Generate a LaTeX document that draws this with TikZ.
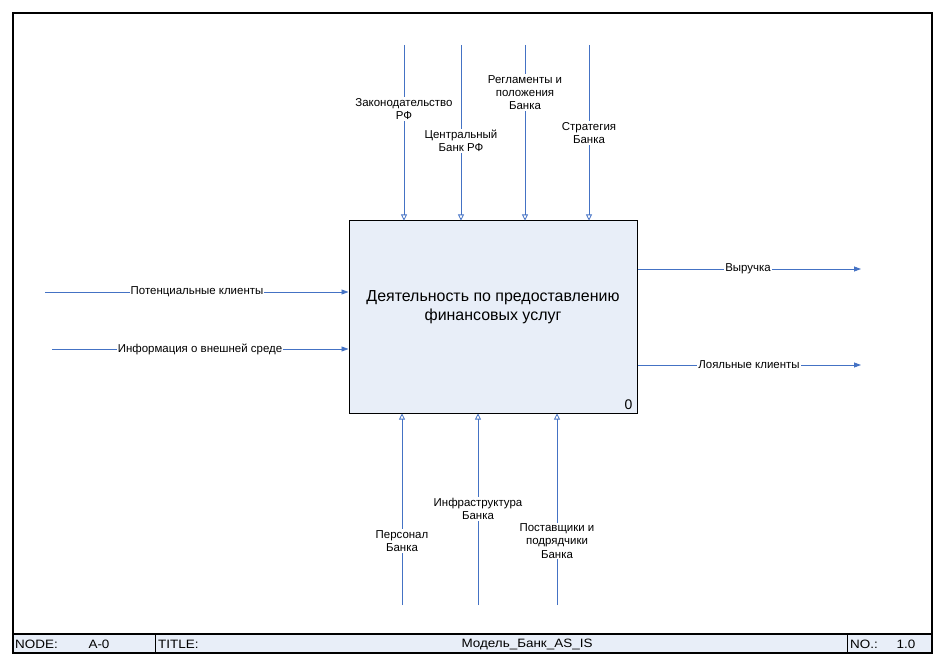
\documentclass[tikz,border=0pt]{standalone}
\usepackage{fontspec}
\setmainfont{Liberation Sans}
\usetikzlibrary{arrows.meta}
\definecolor{idefline}{HTML}{4472C4}
\definecolor{idefbox}{HTML}{E8EEF8}
\begin{document}
\begin{tikzpicture}[x=1bp,y=-1bp,
  flow/.style={draw=idefline, line width=0.8bp},
  ctrl/.style={flow, -{Triangle[open,length=6bp,width=6bp]}},
  feed/.style={flow, -{Triangle[length=7bp,width=5bp]}},
  lbl/.style={fill=white, inner sep=1bp, align=center,
    font=\fontsize{11.5}{13.2}\selectfont},
  foot/.style={inner sep=0pt, font=\fontsize{13.5}{14}\selectfont, yscale=0.9, transform shape}]
\useasboundingbox (0,0) rectangle (945,667);
% sheet frame
\draw[line width=1.1bp] (13,13) rectangle (932,653);
% footer band
\draw[line width=1.1bp, fill=idefbox] (13,634) rectangle (932,653);
\draw[line width=0.9bp] (155,634) -- (155,653) (847,634) -- (847,653);
\node[foot, anchor=west] (fnode) at (15,644) {NODE:};
\node[foot] (fa0) at (99,644) {A-0};
\node[foot, anchor=west] (ftitle) at (158,644) {TITLE:};
\node[foot] (fname) at (527,644) {Модель\_Банк\_AS\_IS};
\node[foot, anchor=west] (fno) at (850,644) {NO.:};
\node[foot] (fnum) at (906,644) {1.0};

% activity box
\node[draw, line width=1bp, fill=idefbox, minimum width=288bp, minimum height=192bp,
  inner sep=0pt] (act) at (493,317) {};
\node[align=center, font=\fontsize{16}{19.5}\selectfont] (acttext) at (493,307)
  {Деятельность по предоставлению\\финансовых услуг};
\node[font=\fontsize{14}{16}\selectfont, anchor=south east, inner sep=0pt] (actno)
  at ([xshift=-5bp,yshift=4bp]act.south east) {0};

% controls (top)
\coordinate (c1) at (404,45);
\coordinate (c2) at (461,45);
\coordinate (c3) at (525,45);
\coordinate (c4) at (589,45);
\draw[ctrl] (c1) -- (c1 |- act.north);
\draw[ctrl] (c2) -- (c2 |- act.north);
\draw[ctrl] (c3) -- (c3 |- act.north);
\draw[ctrl] (c4) -- (c4 |- act.north);
\node[lbl] (lc1) at (404,109) {Законодательство\\РФ};
\node[lbl] (lc2) at (461,141) {Центральный\\Банк РФ};
\node[lbl] (lc3) at (525,92.5) {Регламенты и\\положения\\Банка};
\node[lbl] (lc4) at (589,133) {Стратегия\\Банка};

% inputs (left)
\coordinate (i1) at (45,292);
\coordinate (i2) at (52,349);
\draw[feed] (i1) -- (i1 -| act.west);
\draw[feed] (i2) -- (i2 -| act.west);
\node[lbl] (li1) at (197,292) {Потенциальные клиенты};
\node[lbl] (li2) at (200,349) {Информация о внешней среде};

% outputs (right)
\coordinate (o1) at (861,269);
\coordinate (o2) at (861,365);
\draw[feed] (o1 -| act.east) -- (o1);
\draw[feed] (o2 -| act.east) -- (o2);
\node[lbl] (lo1) at (748,269) {Выручка};
\node[lbl] (lo2) at (749,365) {Лояльные клиенты};

% mechanisms (bottom)
\coordinate (m1) at (402,605);
\coordinate (m2) at (478,605);
\coordinate (m3) at (557,605);
\draw[ctrl] (m1) -- (m1 |- act.south);
\draw[ctrl] (m2) -- (m2 |- act.south);
\draw[ctrl] (m3) -- (m3 |- act.south);
\node[lbl] (lm1) at (402,541) {Персонал\\Банка};
\node[lbl] (lm2) at (478,509) {Инфраструктура\\Банка};
\node[lbl] (lm3) at (557,541) {Поставщики и\\подрядчики\\Банка};
\end{tikzpicture}
\end{document}
